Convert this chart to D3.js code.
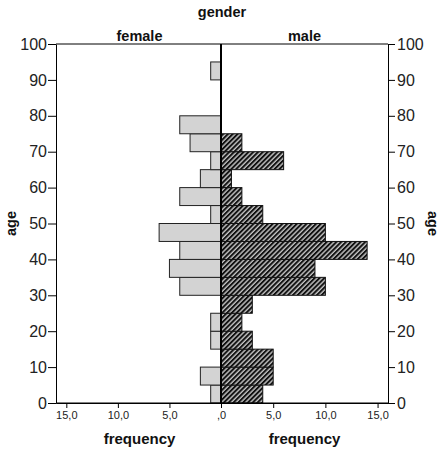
<!DOCTYPE html>
<html>
<head>
<meta charset="utf-8">
<script src="https://cdn.jsdelivr.net/npm/d3@7"></script>
<style>
  body { margin: 0; background: #fff; }
  text { font-family: "Liberation Sans", Arial, sans-serif; }
</style>
</head>
<body>
<div id="chart"></div>
<script>
const width = 444;
const height = 450;

// age bins (start of each 5-year bin)
const binStarts = [0, 5, 10, 15, 20, 25, 30, 35, 40, 45, 50, 55, 60, 65, 70, 75, 80, 85, 90, 95];
const femaleCounts = [1, 2, 0, 1, 1, 0, 4, 5, 4, 6, 1, 4, 2, 1, 3, 4, 0, 0, 1, 0];
const maleCounts   = [4, 5, 5, 3, 2, 3, 10, 9, 14, 10, 4, 2, 1, 6, 2, 0, 0, 0, 0, 0];
const ageTicks = [0, 10, 20, 30, 40, 50, 60, 70, 80, 90, 100];
const freqTicks = [0, 5, 10, 15];
const binWidth = 5;

const plotTop = 44, plotBottom = 403, plotLeft = 56, plotRight = 388, mid = 221;

const svg = d3.select("#chart")
  .append("svg")
  .attr("width", width)
  .attr("height", height);

// hatch pattern for male bars
const defs = svg.append("defs");
const pat = defs.append("pattern")
  .attr("id", "hatch")
  .attr("patternUnits", "userSpaceOnUse")
  .attr("width", 3.4)
  .attr("height", 3.4)
  .attr("patternTransform", "rotate(45)");
pat.append("rect").attr("width", 3.4).attr("height", 3.4).attr("fill", "#c4c4c4");
pat.append("rect").attr("width", 2).attr("height", 3.4).attr("fill", "#111");

const y = d3.scaleLinear().domain([0, 100]).range([plotBottom, plotTop]);
const xf = d3.scaleLinear().domain([0, 16]).range([mid, plotLeft]);
const xm = d3.scaleLinear().domain([0, 16]).range([mid, plotRight]);

const fmt = d => d === 0 ? ",0" : d.toFixed(1).replace(".", ",");

// top frame line
svg.append("line")
  .attr("x1", plotLeft).attr("x2", plotRight)
  .attr("y1", plotTop).attr("y2", plotTop)
  .attr("stroke", "#000");

// female bars
svg.append("g").selectAll("rect")
  .data(binStarts.map((b, i) => ({ b, v: femaleCounts[i] })).filter(d => d.v > 0))
  .join("rect")
  .attr("x", d => xf(d.v))
  .attr("y", d => y(d.b + binWidth))
  .attr("width", d => xf(0) - xf(d.v))
  .attr("height", d => y(d.b) - y(d.b + binWidth))
  .attr("fill", "#d3d3d3")
  .attr("stroke", "#222")
  .attr("stroke-width", 1);

// male bars
svg.append("g").selectAll("rect")
  .data(binStarts.map((b, i) => ({ b, v: maleCounts[i] })).filter(d => d.v > 0))
  .join("rect")
  .attr("x", xm(0))
  .attr("y", d => y(d.b + binWidth))
  .attr("width", d => xm(d.v) - xm(0))
  .attr("height", d => y(d.b) - y(d.b + binWidth))
  .attr("fill", "url(#hatch)")
  .attr("stroke", "#111")
  .attr("stroke-width", 1);

// center line
svg.append("line")
  .attr("x1", mid).attr("x2", mid)
  .attr("y1", plotTop).attr("y2", plotBottom)
  .attr("stroke", "#000")
  .attr("stroke-width", 2);

// y axes
const styleAxis = (g, size) => {
  g.select(".domain").attr("stroke", "#000");
  g.selectAll(".tick line").attr("stroke", "#000");
  g.selectAll(".tick text")
    .attr("fill", "#222")
    .style("font-family", "'Liberation Sans', Arial, sans-serif")
    .style("font-size", size + "px");
};

svg.append("g")
  .attr("transform", `translate(${plotLeft},0)`)
  .call(d3.axisLeft(y).tickValues(ageTicks).tickSize(8).tickPadding(1).tickSizeOuter(0))
  .call(g => styleAxis(g, 16));

svg.append("g")
  .attr("transform", `translate(${plotRight},0)`)
  .call(d3.axisRight(y).tickValues(ageTicks).tickSize(7).tickPadding(2).tickSizeOuter(0))
  .call(g => styleAxis(g, 16));

// x axes
svg.append("g")
  .attr("transform", `translate(0,${plotBottom})`)
  .call(d3.axisBottom(xf).tickValues(freqTicks).tickFormat(fmt).tickSize(5).tickPadding(3).tickSizeOuter(0))
  .call(g => styleAxis(g, 11));

svg.append("g")
  .attr("transform", `translate(0,${plotBottom})`)
  .call(d3.axisBottom(xm).tickValues(freqTicks.filter(d => d > 0)).tickFormat(fmt).tickSize(5).tickPadding(3).tickSizeOuter(0))
  .call(g => styleAxis(g, 11));

// bottom line across whole width
svg.append("line")
  .attr("x1", plotLeft).attr("x2", plotRight)
  .attr("y1", plotBottom).attr("y2", plotBottom)
  .attr("stroke", "#000");

// titles
const bold = (x, yy, txt, size) => svg.append("text")
  .attr("x", x).attr("y", yy)
  .attr("text-anchor", "middle")
  .attr("font-weight", "bold")
  .attr("font-size", size)
  .attr("fill", "#111")
  .text(txt);

bold(222, 17, "gender", 14.5);
bold((plotLeft + mid) / 2 + 1, 41, "female", 14.5);
bold((mid + plotRight) / 2, 41, "male", 14.5);
bold((plotLeft + mid) / 2 + 1, 444, "frequency", 15);
bold((mid + plotRight) / 2, 444, "frequency", 15);

bold(0, 0, "age", 14.5)
  .attr("transform", `translate(16,${(plotTop + plotBottom) / 2}) rotate(-90)`);
bold(0, 0, "age", 14.5)
  .attr("transform", `translate(428,${(plotTop + plotBottom) / 2}) rotate(90)`);
</script>
</body>
</html>
